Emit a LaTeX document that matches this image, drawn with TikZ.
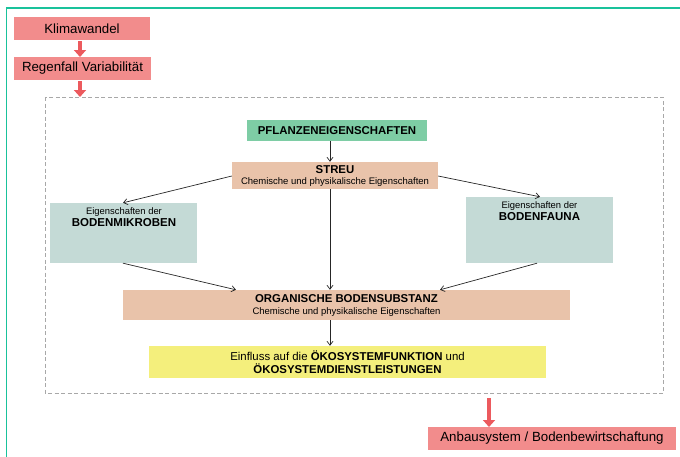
\documentclass[tikz,border=0pt]{standalone}
\usepackage{fontspec}
\setmainfont{Liberation Sans}
\usetikzlibrary{arrows.meta}
\definecolor{frameteal}{HTML}{19C29B}
\definecolor{redbox}{HTML}{F28C8C}
\definecolor{redarrow}{HTML}{EC5A5E}
\definecolor{greenbox}{HTML}{7ECDA5}
\definecolor{peach}{HTML}{E9C3AA}
\definecolor{graybox}{HTML}{C4DAD6}
\definecolor{yellowbox}{HTML}{F4EF7C}
\definecolor{dashgray}{HTML}{A8A8A8}
\begin{document}
\begin{tikzpicture}[x=1pt,y=-1pt,
  redlbl/.style={fill=redbox,draw=none,minimum height=23pt,inner sep=0pt,font=\fontsize{13.3}{15}\selectfont},
  box/.style={draw=none,inner sep=0pt,align=center},
  redarr/.style={draw=redarrow,line width=4.5pt,-{Triangle[width=12pt,length=7pt]}},
  blk/.style={draw=black!85,line width=0.7pt,-{Straight Barb[length=4pt,width=6pt]}}]
\useasboundingbox (0,0) rectangle (680,456);
% outer frame (top and left only)
\draw[frameteal,line width=1.6pt] (6.5,460) -- (6.5,8) -- (681,8);
% dashed area
\draw[dashgray,dashed,line width=0.6pt,dash pattern=on 4pt off 2.5pt] (45,97) rectangle (663,393);
% red flow
\node[redlbl,minimum width=136pt] (klima) at (82,28.5) {Klimawandel};
\node[redlbl,minimum width=137pt] (regen) at (82.5,68.5) {Regenfall Variabilität};
\draw[redarr] (80,41) -- (80,57);
\draw[redarr] (80,81) -- (80,97);
\node[redlbl,minimum width=248pt] (anbau) at (552,438.5) {Anbausystem / Bodenbewirtschaftung};
\draw[redarr] (489,398) -- (489,427);
% boxes
\node[box,fill=greenbox,minimum width=180pt,minimum height=21pt,font=\bfseries\fontsize{11.4}{13}\selectfont] (pfl) at (337,130.5) {PFLANZENEIGENSCHAFTEN};
\node[box,fill=peach,minimum width=206pt,minimum height=27pt] (streu) at (335,175.5)
  {{\bfseries\fontsize{11.4}{12}\selectfont STREU}\\[-1pt]{\fontsize{9.5}{10}\selectfont Chemische und physikalische Eigenschaften}};
\node[box,fill=graybox,minimum width=147pt,minimum height=60pt] (mikro) at (123.5,233) {};
\node[align=center,inner sep=0pt,anchor=north] at (124,207) {{\fontsize{9.4}{10}\selectfont Eigenschaften der}\\[0pt]{\bfseries\fontsize{11.5}{12}\selectfont BODENMIKROBEN}};
\node[box,fill=graybox,minimum width=147pt,minimum height=66pt] (fauna) at (539.5,230) {};
\node[align=center,inner sep=0pt,anchor=north] at (539.5,201) {{\fontsize{9.4}{10}\selectfont Eigenschaften der}\\[0pt]{\bfseries\fontsize{11.5}{12}\selectfont BODENFAUNA}};
\node[box,fill=peach,minimum width=447pt,minimum height=30pt] (org) at (346.5,305)
  {{\bfseries\fontsize{11.4}{12}\selectfont ORGANISCHE BODENSUBSTANZ}\\[0pt]{\fontsize{9.5}{10}\selectfont Chemische und physikalische Eigenschaften}};
\node[box,fill=yellowbox,minimum width=397pt,minimum height=32pt,font=\fontsize{11.4}{13.5}\selectfont] (einf) at (347.5,362)
  {Einfluss auf die \textbf{ÖKOSYSTEMFUNKTION} und\\\textbf{ÖKOSYSTEMDIENSTLEISTUNGEN}};
% connectors
\draw[blk] (pfl.south -| 330,0) -- (streu.north -| 330,0);
\draw[blk] (streu.west |- 0,176) -- (mikro.north -| 123,0);
\draw[blk] (streu.east |- 0,176) -- (fauna.north -| 540,0);
\draw[blk] (streu.south -| 330,0) -- (org.north -| 330,0);
\draw[blk] (mikro.south -| 123,0) -- (org.north -| 236,0);
\draw[blk] (fauna.south -| 537,0) -- (org.north -| 440,0);
\draw[blk] (org.south -| 330,0) -- (einf.north -| 330,0);
\end{tikzpicture}
\end{document}
